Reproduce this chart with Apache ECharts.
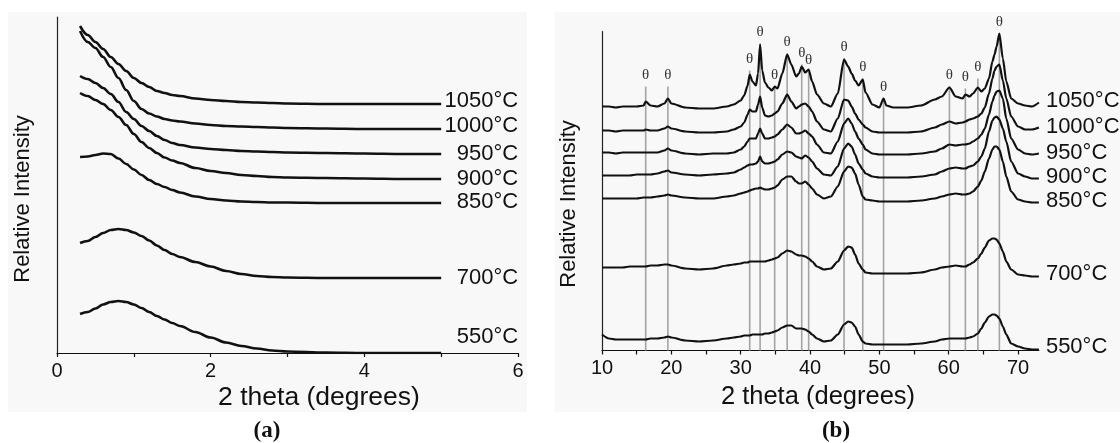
<!DOCTYPE html>
<html>
<head>
<meta charset="utf-8">
<title>SAXS and XRD patterns vs calcination temperature</title>
<script src="https://cdn.jsdelivr.net/npm/echarts@6/dist/echarts.min.js"></script>
<style>
  html, body { margin: 0; padding: 0; background: #ffffff; }
  #chart { width: 1120px; height: 443px; }
</style>
</head>
<body>
<div id="chart"></div>
<script>
// ---------- data ----------
const temps = ['550°C', '700°C', '850°C', '900°C', '950°C', '1000°C', '1050°C'];

// (a) low-angle patterns, stacked with vertical offsets
const twoThetaA = [0.3, 0.4, 0.5, 0.6, 0.7, 0.8, 0.9, 1.0, 1.1, 1.2, 1.3, 1.4, 1.5, 1.6, 1.8, 2.0, 2.2, 2.4, 2.6, 2.8, 3.0, 3.5, 4.0, 4.5, 5.0];
const lowAngle550  = [39, 41, 44.5, 48.5, 51, 52, 51, 48.5, 45, 41, 37, 33.5, 30, 27, 21, 15.5, 10.5, 7, 4.5, 2.5, 1.5, 0.5, 0, 0, 0];
const lowAngle700  = [110, 112, 116, 120, 123, 124, 123, 120.5, 117, 112.5, 107.5, 103, 99, 96, 91, 86.5, 82, 79, 77, 76, 75.5, 75, 75, 75, 75];
const lowAngle850  = [196, 196.5, 198, 199.5, 199, 194.5, 189, 183.5, 178, 173, 169, 166, 163, 160.5, 156.5, 154, 152.5, 151.5, 151, 150.5, 150.5, 150, 150, 150, 150];
const lowAngle900  = [260, 257, 253, 249, 243, 236, 228, 219, 211, 205, 200, 195.5, 192.5, 190, 185, 182, 180, 178, 177, 176, 175.5, 175, 174.5, 174, 174];
const lowAngle950  = [277, 274, 270, 265, 259, 251, 241, 234, 227, 222, 217, 213, 210, 208, 205.5, 204, 203, 202, 201.5, 201, 200.5, 200, 199.5, 199, 199];
const lowAngle1000 = [322, 311, 305, 296, 286, 275, 263, 252, 244, 239.5, 236.5, 234, 232.5, 231.5, 229.5, 228, 227, 226.5, 226, 225.5, 225, 224.5, 224, 224, 224];
const lowAngle1050 = [327, 318, 311, 304, 296, 289, 282, 275, 270, 266, 262, 260, 258, 257, 254.5, 253, 252, 251, 250.5, 250, 249.5, 249, 249, 249, 249];
const ticksA = [0, 1, 2, 3, 4, 5, 6];
const tickLabelsA = [0, 2, 4, 6];

// (b) wide-angle patterns, stacked with vertical offsets
const twoThetaB = [10, 11, 12, 13, 14, 15, 16, 16.3, 17, 18, 19, 19.5, 20, 22, 24, 26, 28, 29, 30, 30.5,
  31, 31.3, 31.7, 32.2, 32.5, 32.8, 33.1, 33.5, 34, 34.5, 34.9, 35.3, 36, 36.7, 37.3, 38, 38.4, 38.8, 39.3, 39.8,
  40.3, 41, 42, 43, 44, 44.9, 45.5, 46, 46.5, 47, 47.6, 48, 49, 50, 50.6, 51, 52, 54, 56, 58,
  59, 60.1, 61, 62, 62.4, 63, 63.5, 64.2, 64.7, 65.2, 65.8, 66.3, 66.6, 66.9, 67.3, 67.8, 68.3, 69, 70, 71, 72, 73];
const xrd550 = [16, 12, 11, 11, 11, 11, 11, 11, 12, 12, 13, 14, 13, 10, 9, 10, 12, 13, 14, 15,
  15, 15, 16, 16, 16, 16, 16, 17, 17, 18, 19, 20, 23, 25, 25, 22, 22, 22, 21, 19,
  16, 12, 9, 10, 16, 26, 29, 28, 24, 16, 9, 7, 6, 6, 6, 6, 6, 6, 7, 9,
  11, 12, 12, 12, 12, 13, 14, 17, 22, 28, 34, 36, 36, 35, 32, 24, 16, 7, 4, 2, 1, 1];
const xrd700 = [83, 83, 83, 83, 84, 84, 84, 84, 85, 85, 86, 86, 85, 82, 81, 82, 85, 86, 87, 88,
  88, 89, 89, 89, 89, 89, 89, 89, 90, 91, 92, 93, 97, 100, 99, 96, 95, 95, 94, 92,
  89, 84, 81, 82, 89, 100, 104, 103, 96, 87, 81, 78, 77, 77, 77, 77, 77, 77, 78, 81,
  83, 84, 85, 84, 84, 86, 88, 92, 97, 103, 110, 112, 112, 111, 107, 99, 89, 81, 76, 75, 74, 74];
const xrd850 = [152, 152, 152, 152, 152, 152, 153, 153, 153, 154, 155, 156, 155, 153, 152, 152, 154, 155, 157, 158,
  159, 160, 161, 162, 162, 163, 162, 161, 161, 162, 163, 165, 171, 174, 174, 169, 167, 167, 169, 166,
  162, 156, 152, 154, 164, 179, 184, 183, 177, 166, 154, 151, 150, 149, 149, 149, 149, 149, 150, 152,
  154, 156, 157, 156, 156, 157, 159, 164, 170, 179, 192, 201, 204, 204, 201, 189, 174, 159, 151, 149, 148, 148];
const xrd900 = [175, 175, 175, 175, 175, 176, 176, 176, 176, 177, 179, 180, 178, 176, 175, 176, 177, 178, 181, 183,
  185, 186, 186, 187, 189, 194, 189, 187, 187, 188, 189, 191, 196, 199, 198, 194, 193, 192, 195, 193,
  189, 182, 176, 175, 184, 202, 207, 204, 196, 187, 181, 177, 174, 173, 173, 173, 173, 173, 174, 176,
  179, 182, 183, 182, 182, 184, 185, 189, 194, 202, 219, 230, 233, 234, 231, 222, 209, 189, 177, 174, 172, 172];
const xrd950 = [198, 198, 197, 198, 198, 198, 198, 198, 198, 198, 200, 202, 200, 197, 196, 197, 197, 198, 201, 204,
  209, 212, 212, 212, 217, 222, 217, 212, 212, 213, 214, 216, 221, 226, 223, 217, 217, 218, 220, 217,
  214, 206, 198, 197, 209, 227, 232, 227, 219, 212, 206, 201, 197, 196, 196, 196, 196, 196, 197, 199,
  202, 206, 205, 206, 206, 207, 209, 212, 216, 222, 236, 249, 255, 259, 260, 252, 232, 212, 201, 197, 196, 197];
const xrd1000 = [220, 220, 219, 220, 220, 220, 220, 221, 220, 220, 222, 224, 222, 219, 218, 218, 219, 221, 224, 228,
  236, 241, 239, 239, 246, 254, 243, 235, 234, 235, 237, 239, 247, 256, 249, 242, 244, 246, 247, 244,
  239, 229, 221, 219, 232, 251, 250, 244, 237, 231, 226, 223, 219, 218, 218, 218, 218, 218, 219, 223,
  226, 229, 227, 228, 229, 231, 232, 234, 237, 243, 257, 272, 280, 284, 286, 270, 252, 234, 224, 221, 221, 223];
const xrd1050 = [244, 244, 243, 244, 244, 244, 245, 249, 245, 244, 247, 252, 247, 243, 242, 242, 244, 246, 250, 255,
  265, 276, 269, 265, 277, 306, 280, 268, 263, 260, 264, 262, 277, 296, 286, 274, 277, 284, 278, 281,
  269, 256, 247, 244, 257, 291, 284, 277, 270, 265, 271, 258, 246, 243, 252, 245, 243, 243, 245, 251,
  254, 263, 254, 252, 256, 254, 257, 263, 259, 262, 272, 289, 296, 304, 317, 292, 269, 252, 247, 245, 244, 248];
const ticksB = [10, 15, 20, 25, 30, 35, 40, 45, 50, 55, 60, 65, 70];
const tickLabelsB = [10, 20, 30, 40, 50, 60, 70];

// reflections marked with θ, and the height each marker line reaches
const thetaPeaks = [16.3, 19.5, 31.3, 32.8, 34.9, 36.7, 38.8, 39.8, 44.9, 47.6, 50.6, 60.1, 62.4, 64.2, 67.3];
const thetaTops  = [264, 264, 280, 307, 264, 297, 286, 279, 292, 272, 252, 264, 262, 272, 317];

const seriesA = [lowAngle550, lowAngle700, lowAngle850, lowAngle900, lowAngle950, lowAngle1000, lowAngle1050];
const seriesB = [xrd550, xrd700, xrd850, xrd900, xrd950, xrd1000, xrd1050];

// ---------- styling ----------
const SANS = '"Liberation Sans", Arial, sans-serif';
const SERIF = '"Liberation Serif", "Times New Roman", serif';
const INK = '#111111';
const labelShiftA = [-16, 0, -1, 0, 0, -3, -3];
const labelShiftB = [-3, -3, -2, -2, -1, -1, -2];

const pairs = (xs, ys) => xs.map((x, i) => [x, ys[i]]);

const chart = echarts.init(document.getElementById('chart'), null, { renderer: 'canvas' });

const series = [];

// θ marker lines behind the patterns
series.push({
  type: 'custom',
  xAxisIndex: 1,
  yAxisIndex: 1,
  z: 1,
  silent: true,
  clip: false,
  data: thetaPeaks.map((x, i) => [x, thetaTops[i]]),
  renderItem(params, api) {
    const p0 = api.coord([api.value(0), 0]);
    const p1 = api.coord([api.value(0), api.value(1)]);
    return {
      type: 'group',
      children: [
        { type: 'line', shape: { x1: p0[0], y1: p0[1], x2: p1[0], y2: p1[1] },
          style: { stroke: '#a4a4a4', lineWidth: 1.6 } },
        { type: 'text', x: p1[0], y: p1[1] - 4,
          style: { text: 'θ', fill: '#333333', font: '15px ' + SERIF, align: 'center', verticalAlign: 'bottom' } }
      ]
    };
  }
});

temps.forEach((name, i) => {
  series.push({
    name, type: 'line', xAxisIndex: 0, yAxisIndex: 0, z: 3,
    data: pairs(twoThetaA, seriesA[i]),
    showSymbol: false, symbol: 'none', smooth: 0.35, smoothMonotone: 'x',
    lineStyle: { color: INK, width: 2.6 },
    endLabel: {
      show: true, formatter: name, align: 'right', verticalAlign: 'middle',
      distance: 0, offset: [77, labelShiftA[i]],
      color: INK, fontFamily: SANS, fontSize: 22
    }
  });
});

temps.forEach((name, i) => {
  series.push({
    name: name + ' ', type: 'line', xAxisIndex: 1, yAxisIndex: 1, z: 3,
    data: pairs(twoThetaB, seriesB[i]),
    showSymbol: false, symbol: 'none', smooth: 0.25, smoothMonotone: 'x',
    lineStyle: { color: INK, width: 2.2 },
    endLabel: {
      show: true, formatter: name, align: 'left', verticalAlign: 'middle',
      distance: 7, offset: [0, labelShiftB[i]],
      color: INK, fontFamily: SANS, fontSize: 22
    }
  });
});

const valueAxisCommon = {
  type: 'value',
  splitLine: { show: false },
  axisLine: { show: true, onZero: false, lineStyle: { color: '#111', width: 1.2 } },
  axisTick: { show: true, inside: false, length: 4, lineStyle: { color: '#111', width: 1.2 } },
  axisLabel: { color: INK, fontFamily: SANS, fontSize: 20, margin: 8 }
};

const option = {
  animation: false,
  backgroundColor: '#ffffff',
  graphic: [
    { type: 'rect', z: -10, silent: true, shape: { x: 8, y: 12, width: 519, height: 400 }, style: { fill: '#f8f8f8' } },
    { type: 'rect', z: -10, silent: true, shape: { x: 555, y: 12, width: 565, height: 400 }, style: { fill: '#f8f8f8' } },
    { type: 'text', x: 319, y: 398, style: { text: '2 theta (degrees)', font: '26.5px ' + SANS, fill: INK, align: 'center', verticalAlign: 'middle' } },
    { type: 'text', x: 818, y: 397, style: { text: '2 theta (degrees)', font: '25.5px ' + SANS, fill: INK, align: 'center', verticalAlign: 'middle' } },
    { type: 'text', x: 23, y: 199, rotation: Math.PI / 2, style: { text: 'Relative Intensity', font: '22px ' + SANS, fill: INK, align: 'center', verticalAlign: 'middle' } },
    { type: 'text', x: 569, y: 204, rotation: Math.PI / 2, style: { text: 'Relative Intensity', font: '22px ' + SANS, fill: INK, align: 'center', verticalAlign: 'middle' } },
    { type: 'text', x: 267, y: 431, style: { text: '(a)', font: 'bold 23px ' + SERIF, fill: INK, align: 'center', verticalAlign: 'middle' } },
    { type: 'text', x: 836, y: 431, style: { text: '(b)', font: 'bold 23px ' + SERIF, fill: INK, align: 'center', verticalAlign: 'middle' } }
  ],
  grid: [
    { left: 57, top: 17, width: 461, height: 336 },
    { left: 602, top: 31.5, width: 436.9, height: 319 }
  ],
  xAxis: [
    Object.assign({}, valueAxisCommon, {
      gridIndex: 0, min: 0, max: 6, interval: 1,
      axisTick: Object.assign({}, valueAxisCommon.axisTick, { customValues: ticksA }),
      axisLabel: Object.assign({}, valueAxisCommon.axisLabel, { customValues: tickLabelsA })
    }),
    Object.assign({}, valueAxisCommon, {
      gridIndex: 1, min: 10, max: 73, interval: 5,
      axisTick: Object.assign({}, valueAxisCommon.axisTick, { customValues: ticksB }),
      axisLabel: Object.assign({}, valueAxisCommon.axisLabel, { customValues: tickLabelsB })
    })
  ],
  yAxis: [
    { type: 'value', gridIndex: 0, min: 0, max: 336, splitLine: { show: false },
      axisLine: { show: true, lineStyle: { color: '#222', width: 1.2 } }, axisTick: { show: false }, axisLabel: { show: false } },
    { type: 'value', gridIndex: 1, min: 0, max: 319, splitLine: { show: false },
      axisLine: { show: true, lineStyle: { color: '#222', width: 1.2 } }, axisTick: { show: false }, axisLabel: { show: false } }
  ],
  series
};

chart.setOption(option);
</script>
</body>
</html>
